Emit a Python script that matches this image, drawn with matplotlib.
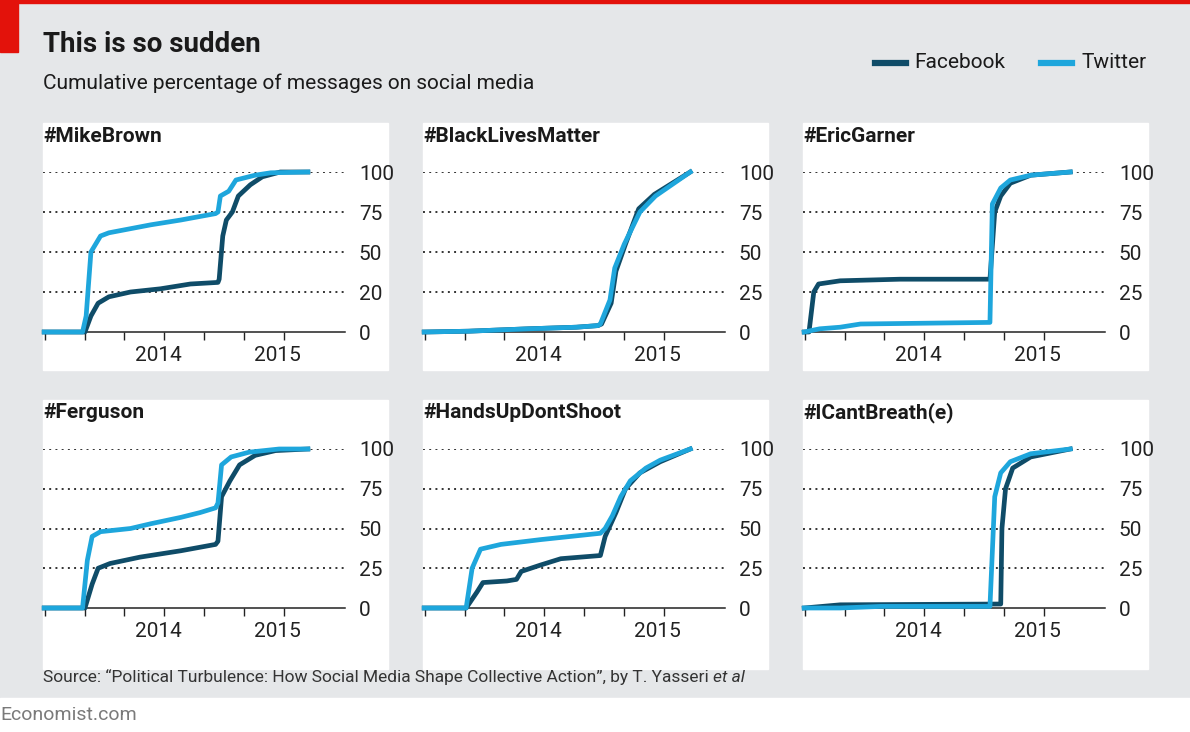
import matplotlib
matplotlib.use("Agg")
import matplotlib.pyplot as plt
from matplotlib.patches import Rectangle

# ---- data (x in decimal years, y cumulative %) ----
mb_tw_x = [2013.13,2013.45,2013.48,2013.52,2013.60,2013.67,2014.02,2014.27,2014.56,2014.58,2014.60,2014.67,2014.73,2014.89,2015.02,2015.33]
mb_tw_y = [0,0,10,50,60,62,67,70,74,75,85,88,95,98,99.5,100]
mb_fb_x = [2013.13,2013.47,2013.52,2013.58,2013.67,2013.85,2014.10,2014.35,2014.58,2014.59,2014.62,2014.65,2014.70,2014.75,2014.85,2014.95,2015.10,2015.33]
mb_fb_y = [0,0,10,18,22,25,27,30,31,33,60,70,75,85,92,97,100,100]

blm_tw_x = [2013.13,2013.50,2014.00,2014.40,2014.58,2014.60,2014.68,2014.72,2014.80,2014.93,2015.06,2015.35]
blm_tw_y = [0,0.5,2,3,4,5,20,40,55,75,85,100]
blm_fb_x = [2013.13,2013.50,2014.00,2014.40,2014.58,2014.61,2014.69,2014.73,2014.81,2014.92,2015.05,2015.35]
blm_fb_y = [0,0.5,2,3,4,5,18,38,55,77,86,100]

eg_fb_x = [2013.13,2013.17,2013.21,2013.25,2013.43,2013.93,2014.68,2014.72,2014.77,2014.85,2015.02,2015.35]
eg_fb_y = [0,0,25,30,32,33,33,75,85,93,98,100]
eg_tw_x = [2013.13,2013.26,2013.43,2013.60,2014.68,2014.70,2014.77,2014.85,2015.02,2015.35]
eg_tw_y = [0,2,3,5,6,80,90,95,98,100]

fe_tw_x = [2013.13,2013.45,2013.49,2013.53,2013.60,2013.85,2014.02,2014.27,2014.43,2014.56,2014.58,2014.61,2014.69,2014.84,2015.09,2015.33]
fe_tw_y = [0,0,30,45,48,50,53,57,60,63,66,90,95,98,100,100]
fe_fb_x = [2013.13,2013.47,2013.53,2013.58,2013.68,2013.93,2014.27,2014.56,2014.58,2014.61,2014.68,2014.76,2014.89,2015.06,2015.33]
fe_fb_y = [0,0,15,25,28,32,36,40,42,70,80,90,96,99,100]

hu_tw_x = [2013.13,2013.48,2013.53,2013.60,2013.77,2014.10,2014.35,2014.60,2014.64,2014.70,2014.77,2014.85,2014.98,2015.10,2015.35]
hu_tw_y = [0,0,25,37,40,43,45,47,50,58,70,80,88,93,100]
hu_fb_x = [2013.13,2013.48,2013.57,2013.62,2013.82,2013.90,2013.94,2014.10,2014.27,2014.60,2014.64,2014.73,2014.81,2014.93,2015.10,2015.35]
hu_fb_y = [0,0,10,16,17,18,23,27,31,33,45,60,75,85,92,100]

ic_tw_x = [2013.13,2013.43,2013.77,2014.68,2014.72,2014.77,2014.85,2015.02,2015.35]
ic_tw_y = [0,0,1,1,70,85,92,97,100]
ic_fb_x = [2013.13,2013.43,2014.77,2014.78,2014.81,2014.87,2015.02,2015.35]
ic_fb_y = [0,2,2.5,50,75,88,95,100]

titles = ["#MikeBrown","#BlackLivesMatter","#EricGarner","#Ferguson","#HandsUpDontShoot","#ICantBreath(e)"]
fb_series = [(mb_fb_x,mb_fb_y),(blm_fb_x,blm_fb_y),(eg_fb_x,eg_fb_y),(fe_fb_x,fe_fb_y),(hu_fb_x,hu_fb_y),(ic_fb_x,ic_fb_y)]
tw_series = [(mb_tw_x,mb_tw_y),(blm_tw_x,blm_tw_y),(eg_tw_x,eg_tw_y),(fe_tw_x,fe_tw_y),(hu_tw_x,hu_tw_y),(ic_tw_x,ic_tw_y)]
y_ticks = [0,25,50,75,100]
y_labels_first = ["0","20","50","75","100"]
y_labels = ["0","25","50","75","100"]
x_ticks = [2013.133+i/3 for i in range(7)]
year_labels = ["2014","2015"]

FB = "#0f4c68"
TW = "#1ea6dc"
BG = "#e5e7e9"
FONT = ["Roboto", "DejaVu Sans"]
plt.rcParams["font.family"] = FONT

W, H = 1190, 732
fig = plt.figure(figsize=(11.9, 7.32), dpi=100)
fig.patch.set_facecolor(BG)

def fx(p): return p / W
def fy(p): return 1 - p / H

def rect(x0, y0, w, h, color):
    fig.add_artist(Rectangle((x0, y0), w, h, transform=fig.transFigure, color=color, zorder=-5))

rect(0, 0, 1, 34/H, "white")
rect(0, fy(52), fx(18), 52/H, "#e3120b")
rect(0, fy(3), 1, 3/H, "#e3120b")

fig.text(fx(43), fy(52), "This is so sudden", fontsize=20, fontweight="bold", color="#1a1a1a", va="baseline")
fig.text(fx(43), fy(89), "Cumulative percentage of messages on social media", fontsize=15, color="#1a1a1a", va="baseline")

# legend
fig.add_artist(plt.Line2D([fx(875), fx(906)], [fy(63), fy(63)], color=FB, lw=4.5, transform=fig.transFigure))
fig.text(fx(914), fy(63), "Facebook", fontsize=15, va="center", color="#1a1a1a")
fig.add_artist(plt.Line2D([fx(1041), fx(1072)], [fy(63), fy(63)], color=TW, lw=4.5, transform=fig.transFigure))
fig.text(fx(1081), fy(63), "Twitter", fontsize=15, va="center", color="#1a1a1a")

src = fig.text(fx(43), fy(682), "Source: \u201cPolitical Turbulence: How Social Media Shape Collective Action\u201d, by T. Yasseri ",
               fontsize=12.5, va="baseline", color="#333333")
fig.text(fx(0), fy(720), "Economist.com", fontsize=14, va="baseline", color="#7a7a7a")

col_off = [0, 380, 760]
row_y = [(172, 332, 123, 370, 137), (449, 608, 400, 669, 413)]

for i in range(6):
    r, c = divmod(i, 3)
    top, bot, btop, bbot, ty = row_y[r]
    off = col_off[c]
    rect(fx(43 + off), fy(bbot), 345 / W, (bbot - btop) / H, "white")
    ax = fig.add_axes([fx(43 + off), fy(bot), 302 / W, (bot - top) / H])
    ax.set_zorder(2)
    ax.set_xlim(2013.12, 2015.64)
    ax.set_ylim(0, 100)
    ax.patch.set_alpha(0)
    for s in ["top", "left", "right"]:
        ax.spines[s].set_visible(False)
    ax.spines["bottom"].set_color("#222222")
    ax.spines["bottom"].set_linewidth(1.1)
    for yv in y_ticks[1:]:
        ax.axhline(yv, color="#333333", lw=1.4, ls=(0, (1, 2.2)), zorder=1)
    ax.yaxis.tick_right()
    ax.set_yticks(y_ticks)
    ax.set_yticklabels(y_labels_first if i == 0 else y_labels)
    ax.tick_params(axis="y", length=0, pad=10, labelsize=15, labelcolor="#222222")
    ax.set_xticks(x_ticks)
    ax.set_xticklabels([])
    ax.tick_params(axis="x", length=6, width=1, color="#222222", direction="out")
    for lab, xv in zip(year_labels, [2014.08, 2015.08]):
        ax.text(xv, -9, lab, ha="center", va="top", fontsize=15, color="#222222", clip_on=False)
    fxs, fys = fb_series[i]
    txs, tys = tw_series[i]
    ax.plot(fxs, fys, color=FB, lw=3.4, clip_on=False, zorder=3, solid_joinstyle="round")
    ax.plot(txs, tys, color=TW, lw=3.4, clip_on=False, zorder=4, solid_joinstyle="round")
    fig.text(fx(43 + off), fy(ty), titles[i], fontsize=15, fontweight="bold", va="center", color="#1a1a1a")

fig.canvas.draw()
bb = src.get_window_extent()
fig.text(bb.x1 / W, fy(682), "et al", fontsize=12.5, style="italic", va="baseline", color="#333333")

fig.savefig("out.png", dpi=100, facecolor=fig.get_facecolor())
